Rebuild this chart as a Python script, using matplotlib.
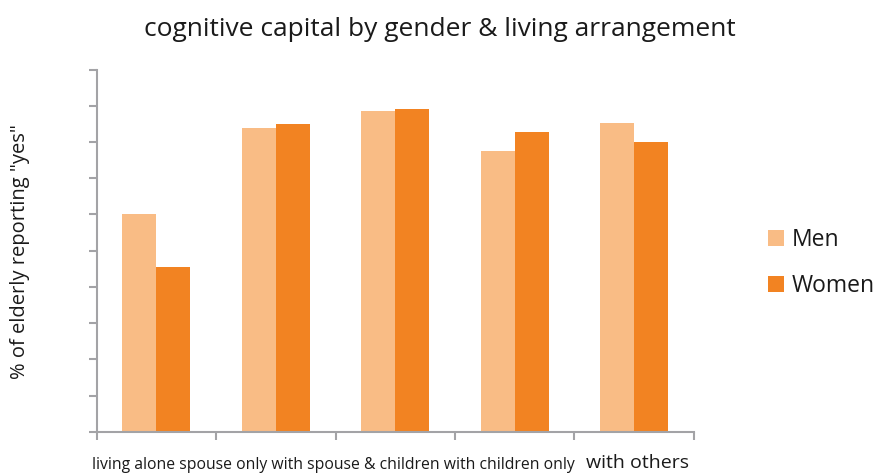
import matplotlib
matplotlib.use("Agg")
import matplotlib.pyplot as plt
import numpy as np

categories = ["living alone", "spouse only", "with spouse & children", "with children only", "with others"]
men = [60.0, 83.9, 88.5, 77.5, 85.4]
women = [45.5, 84.9, 89.2, 82.8, 79.9]
series_names = ["Men", "Women"]
colors = ["#F9BC85", "#F28322"]

plt.rcParams['font.family'] = ['Open Sans', 'DejaVu Sans']

W, H = 879, 474
fig = plt.figure(figsize=(W / 100, H / 100), dpi=100)
ax = fig.add_axes([96.7 / W, 1 - 431.7 / H, (693.7 - 96.7) / W, (431.7 - 69.7) / H])

x = np.arange(len(categories))
bw = 0.285
ax.bar(x - bw / 2, men, bw, color=colors[0], label=series_names[0])
ax.bar(x + bw / 2, women, bw, color=colors[1], label=series_names[1])

ax.set_xlim(-0.5, len(categories) - 0.5)
ax.set_ylim(0, 100)
ax.set_yticks(np.arange(0, 101, 10))
ax.set_xticks(np.arange(-0.5, len(categories), 1.0))
ax.set_xticklabels([])
ax.set_yticklabels([])
gray = "#A3A3A6"
for s in ["top", "right"]:
    ax.spines[s].set_visible(False)
for s in ["left", "bottom"]:
    ax.spines[s].set_color(gray)
    ax.spines[s].set_linewidth(1.5)
ax.tick_params(axis='both', colors=gray, length=6, width=1.5, direction='out')

fig.text(0.5 * (142 + 737) / W, 1 - 30 / H, "cognitive capital by gender & living arrangement",
         ha='center', va='center', fontsize=19, color='#1a1a1a')
fig.text(20 / W, 1 - 252 / H, '% of elderly reporting "yes"', rotation=90,
         ha='center', va='center', fontsize=14.5, color='#1a1a1a')

# category labels along the bottom
small = " ".join(categories[:-1])
fig.text(92 / W, 1 - 465 / H, small, ha='left', va='center', fontsize=11.3, color='#1a1a1a')
fig.text(689 / W, 1 - 463 / H, categories[-1], ha='right', va='center', fontsize=14, color='#1a1a1a')

leg = fig.legend(loc='center left', bbox_to_anchor=(768 / W, 1 - 263 / H), frameon=False,
                 fontsize=16.5, handlelength=0.7, handleheight=0.7, labelspacing=0.95,
                 handletextpad=0.35, borderpad=0, borderaxespad=0)
for t in leg.get_texts():
    t.set_color('#1a1a1a')

fig.savefig("out.png", dpi=100)
